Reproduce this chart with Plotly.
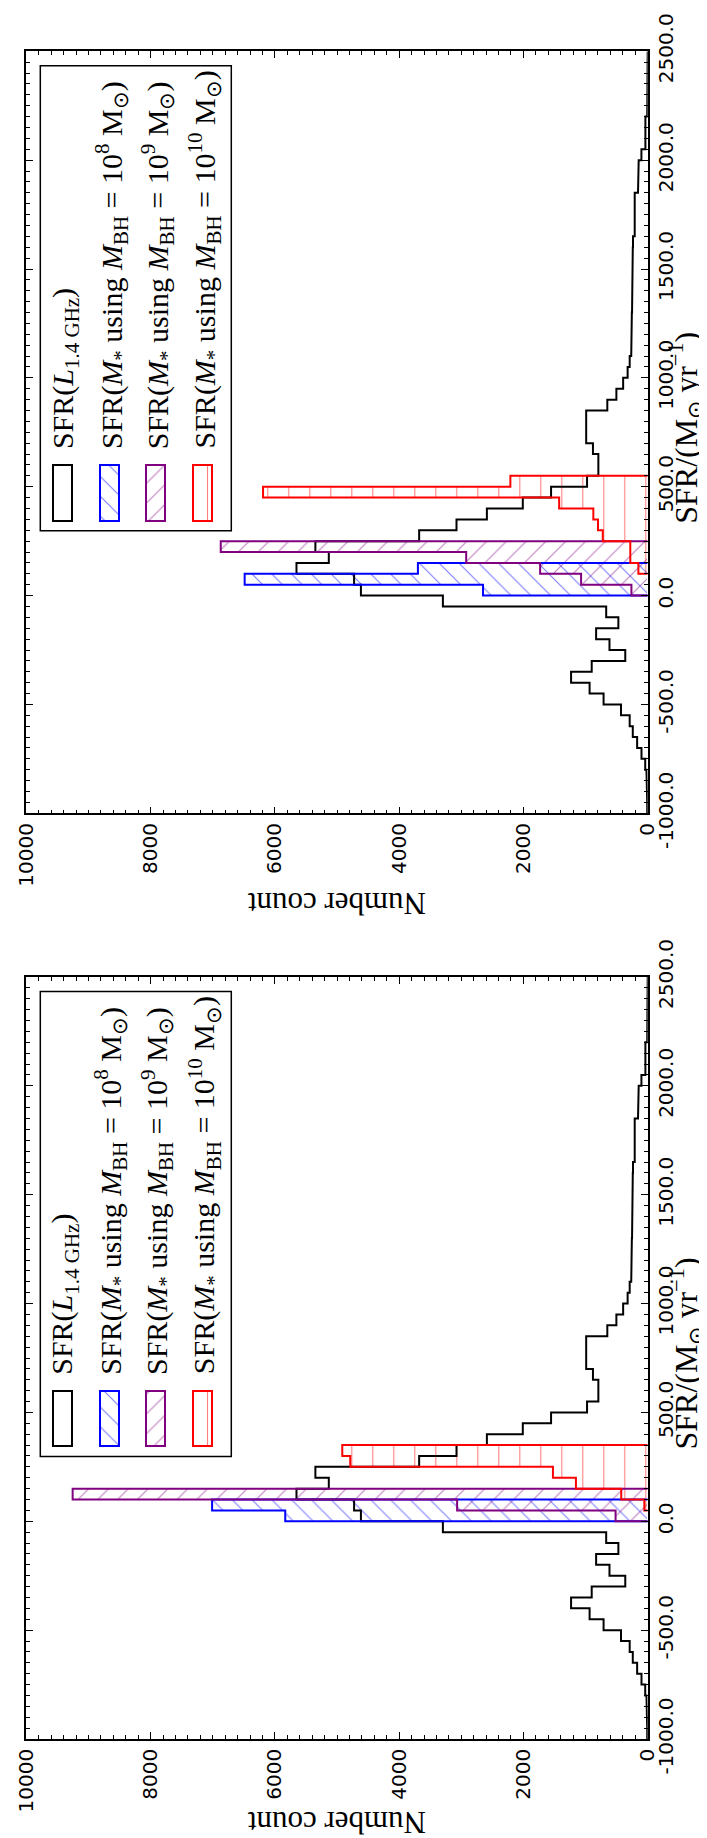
import numpy as np
import plotly.graph_objects as go

W, H = 707, 1838

# ---------------- data ----------------
BIN_W = 50
black_bins = list(range(-1000, 2500, 50))
black_counts = [8, 10, 15, 20, 40, 100, 170, 240, 290, 430,
                710, 935, 1233, 901, 361, 615, 830, 472, 668, 3296,
                4615, 4725, 5652, 5132, 5348, 3678, 3077, 2588, 2010, 1555,
                976, 794, 794, 881, 990, 990, 990, 650, 504, 395,
                323, 290, 265, 262, 258, 255, 252, 250, 248, 245,
                242, 240, 236, 209, 209, 209, 209, 156, 156, 145,
                101, 37, 37, 37, 8, 5, 0, 0, 0, 0]

top_blue_bins = [0, 50, 100]
top_blue_counts = [2650, 6486, 3698]
top_purple_bins = [0, 50, 100, 150, 200]
top_purple_counts = [262, 1072, 1731, 2921, 6871]
top_red_bins = [100, 150, 200, 250, 300, 350, 400, 450, 500]
top_red_counts = [150, 280, 280, 723, 800, 875, 1425, 6190, 2210]

bot_blue_bins = [0, 50]
bot_blue_counts = [5833, 7010]
bot_purple_bins = [0, 50, 100]
bot_purple_counts = [517, 3067, 9254]
bot_red_bins = [50, 100, 150, 200, 250, 300]
bot_red_counts = [54, 426, 1155, 1525, 4787, 4915]

count_ticks = [0, 2000, 4000, 6000, 8000, 10000]
count_ticklabels = ["0", "2000", "4000", "6000", "8000", "10000"]
sfr_ticks = [-1000, -500, 0, 500, 1000, 1500, 2000, 2500]
sfr_ticklabels = ["-1000.0", "-500.0", "0.0", "500.0", "1000.0", "1500.0", "2000.0", "2500.0"]

legend_labels = [
    "SFR(<i>L</i><sub>1.4 GHz</sub>)",
    "SFR(<i>M</i><sub>*</sub> using <i>M</i><sub>BH</sub> = 10<sup>8</sup> M<sub>⊙</sub>)",
    "SFR(<i>M</i><sub>*</sub> using <i>M</i><sub>BH</sub> = 10<sup>9</sup> M<sub>⊙</sub>)",
    "SFR(<i>M</i><sub>*</sub> using <i>M</i><sub>BH</sub> = 10<sup>10</sup> M<sub>⊙</sub>)",
]
xlabel = "Number count"
ylabel = "SFR/(M<sub>⊙</sub> yr<sup>−1</sup>)"

COLORS = ["black", "#0000ff", "#800080", "#ff0000"]
HATCH = ["", "\\", "/", "|"]
SERIF = "Liberation Serif"

# ---------------- helpers ----------------
def step_xy(lo, cnt, w):
    xs, ys = [0], [lo[0]]
    for e, c in zip(lo, cnt):
        xs += [c, c]
        ys += [e, e + w]
    xs.append(0)
    ys.append(lo[-1] + w)
    return xs, ys


def pattern(shape, color):
    if shape == "|":
        return dict(shape="|", fgcolor=color, bgcolor="rgba(0,0,0,0)", size=21,
                    solidity=1.1 / 21, fillmode="overlay")
    return dict(shape=shape, fgcolor=color, bgcolor="rgba(0,0,0,0)", size=14,
                solidity=1.1 / 14, fillmode="overlay")


fig = go.Figure()


def add_hists(xa, ya, hists):
    xs, ys = step_xy(black_bins, black_counts, BIN_W)
    fig.add_trace(go.Scatter(x=xs, y=ys, mode="lines", line=dict(color="black", width=2),
                             xaxis=xa, yaxis=ya, showlegend=False, hoverinfo="skip"))
    for (bins, cnts), col, hat in zip(hists, COLORS[1:], HATCH[1:]):
        fig.add_trace(go.Bar(orientation="h", x=cnts, y=[b + BIN_W / 2 for b in bins],
                             width=BIN_W, base=0,
                             marker=dict(color="rgba(0,0,0,0)", line=dict(width=0),
                                         pattern=pattern(hat, col)),
                             xaxis=xa, yaxis=ya, showlegend=False, hoverinfo="skip"))
        xs, ys = step_xy(bins, cnts, BIN_W)
        fig.add_trace(go.Scatter(x=xs, y=ys, mode="lines", line=dict(color=col, width=2),
                                 xaxis=xa, yaxis=ya, showlegend=False, hoverinfo="skip"))


add_hists("x", "y", [(top_blue_bins, top_blue_counts), (top_purple_bins, top_purple_counts),
                     (top_red_bins, top_red_counts)])
add_hists("x2", "y2", [(bot_blue_bins, bot_blue_counts), (bot_purple_bins, bot_purple_counts),
                       (bot_red_bins, bot_red_counts)])

# ---------------- layout ----------------
PX_L, PX_R = 18.3, 639.7
panels_top = [43.3, 969.0]
PANEL_H = 762.0
xtitle_y = [896, 1815]


def py(p):
    return 1 - p / H


def px(p):
    return p / W


tickfont = dict(family="DejaVu Sans", size=20, color="black")
xax = dict(range=[10000, 0], tickmode="array", tickvals=count_ticks, ticktext=count_ticklabels,
           tickangle=-90, ticks="inside", ticklen=7, tickwidth=1, tickcolor="black",
           showline=True, linecolor="black", linewidth=1.5, mirror="allticks",
           showgrid=False, zeroline=False, automargin=False, fixedrange=True,
           minor=dict(dtick=200, tick0=0, ticks="inside", ticklen=4, tickwidth=1,
                      tickcolor="black", showgrid=False),
           tickfont=tickfont, domain=[px(PX_L), px(PX_R)])
yax = dict(range=[-1000, 2500], tickmode="array", tickvals=sfr_ticks, ticktext=sfr_ticklabels,
           tickangle=-90, side="right", ticks="inside", ticklen=7, tickwidth=1, tickcolor="black",
           showline=True, linecolor="black", linewidth=1.5, mirror="allticks",
           showgrid=False, zeroline=False, automargin=False, fixedrange=True,
           minor=dict(dtick=50, tick0=0, ticks="inside", ticklen=4, tickwidth=1,
                      tickcolor="black", showgrid=False),
           tickfont=tickfont)

layout = dict(width=W, height=H, margin=dict(l=0, r=0, t=0, b=0),
              paper_bgcolor="white", plot_bgcolor="rgba(0,0,0,0)",
              barmode="overlay", bargap=0, showlegend=False)
layout["xaxis"] = dict(xax, anchor="y")
layout["yaxis"] = dict(yax, anchor="x", domain=[py(panels_top[0] + PANEL_H), py(panels_top[0])])
layout["xaxis2"] = dict(xax, anchor="y2")
layout["yaxis2"] = dict(yax, anchor="x2", domain=[py(panels_top[1] + PANEL_H), py(panels_top[1])])
layout["xaxis3"] = dict(domain=[0, 1], range=[0, W], visible=False, anchor="y3", fixedrange=True)
layout["yaxis3"] = dict(domain=[0, 1], range=[H, 0], visible=False, anchor="x3", fixedrange=True)
fig.update_layout(**layout)

annotations = []
shapes = []
patch_cx = [54.6, 101.0, 147.3, 194.5]
for top, xty in zip(panels_top, xtitle_y):
    off = top - 43.3
    annotations.append(dict(text=xlabel, x=px((PX_L + PX_R) / 2), y=py(xty), xref="paper",
                            yref="paper", showarrow=False, textangle=180,
                            font=dict(family=SERIF, size=31, color="black"),
                            xanchor="center", yanchor="middle"))
    annotations.append(dict(text=ylabel, x=px(702), y=py(top + PANEL_H / 2 - 4), xref="paper",
                            yref="paper", showarrow=False, textangle=-90,
                            font=dict(family=SERIF, size=32, color="black"),
                            xanchor="right", yanchor="middle"))
    shapes.append(dict(type="rect", xref="paper", yref="paper", x0=px(32.3), x1=px(223.3),
                       y0=py(522.7 + off), y1=py(57.7 + off), line=dict(color="black", width=1.5),
                       fillcolor="rgba(0,0,0,0)", layer="above"))
    for i, (cx, lab) in enumerate(zip(patch_cx, legend_labels)):
        annotations.append(dict(text=lab, x=px(cx + 2), y=py(443 + off), xref="paper",
                                yref="paper", showarrow=False, textangle=-90,
                                font=dict(family=SERIF, size=30, color="black"),
                                xanchor="center", yanchor="bottom"))
        mk = dict(color="rgba(0,0,0,0)", line=dict(color=COLORS[i], width=2))
        if HATCH[i]:
            mk["pattern"] = pattern(HATCH[i], COLORS[i])
        fig.add_trace(go.Bar(x=[cx], y=[55.4], base=[457.3 + off], width=19, marker=mk,
                             xaxis="x3", yaxis="y3", showlegend=False, hoverinfo="skip"))

fig.update_layout(annotations=annotations, shapes=shapes)
fig.write_html("out.html")
